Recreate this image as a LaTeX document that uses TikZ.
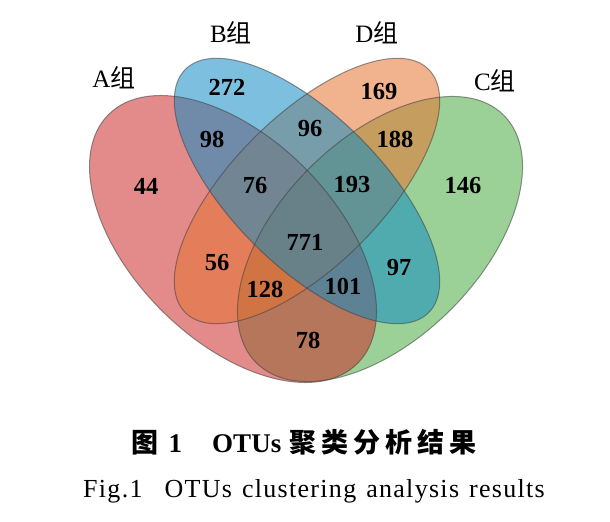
\documentclass[tikz,border=0pt]{standalone}
\usepackage{fontspec}
\setmainfont{Liberation Serif}
\newfontfamily\cjk{Noto Sans CJK SC}
\usepackage{tikz}
\definecolor{acolor}{RGB}{205,45,45}
\definecolor{bcolor}{RGB}{19,140,195}
\definecolor{ccolor}{RGB}{73,173,64}
\definecolor{dcolor}{RGB}{230,115,50}
\newcommand{\numfont}{\fontsize{24.5bp}{28bp}\selectfont\bfseries}
\newcommand{\labfont}{\fontsize{25bp}{28bp}\selectfont}
\newcommand{\capfont}{\fontsize{27bp}{30bp}\selectfont}
\newcommand{\engfont}{\fontsize{26bp}{30bp}\selectfont\addfontfeatures{LetterSpace=5}\spaceskip=10bp}
\begin{document}
\begin{tikzpicture}[x=1bp, y=-1bp, every node/.style={font=\numfont, inner sep=0pt},
    setfill/.style={fill opacity=0.55},
    setline/.style={draw=black!75, draw opacity=0.55, line width=1bp}]
    \fill[white] (0,0) rectangle (610,522);
    \useasboundingbox (0,0) rectangle (610,522);
    % set fills, C at the bottom, B on top
    \fill[setfill, ccolor, rotate around={45:(380,239)}] (380,239) ellipse (175 and 100);
    \fill[setfill, acolor, rotate around={-45:(233,239)}] (233,239) ellipse (176 and 101);
    \fill[setfill, dcolor, rotate around={45:(307,191)}] (307,191) ellipse (172 and 75);
    \fill[setfill, bcolor, rotate around={-45:(307,191)}] (307,191) ellipse (172 and 75);
    % outlines
    \draw[setline, rotate around={45:(380,239)}] (380,239) ellipse (175 and 100);
    \draw[setline, rotate around={-45:(233,239)}] (233,239) ellipse (176 and 101);
    \draw[setline, rotate around={45:(307,191)}] (307,191) ellipse (172 and 75);
    \draw[setline, rotate around={-45:(307,191)}] (307,191) ellipse (172 and 75);
    % set labels
    \node[font=\labfont] (labA) at (114,78) {A{\cjk 组}};
    \node[font=\labfont] (labB) at (231,33) {B{\cjk 组}};
    \node[font=\labfont] (labD) at (377,33) {D{\cjk 组}};
    \node[font=\labfont] (labC) at (495,81) {C{\cjk 组}};
    % counts
    \node (n272) at (227,87) {272};
    \node (n169) at (379,92) {169};
    \node (n98) at (212,139) {98};
    \node (n96) at (310,129) {96};
    \node (n188) at (395,139) {188};
    \node (n44) at (146,186) {44};
    \node (n76) at (255,186) {76};
    \node (n193) at (352,185) {193};
    \node (n146) at (463,186) {146};
    \node (n771) at (305,242) {771};
    \node (n56) at (217,263) {56};
    \node (n97) at (399,268) {97};
    \node (n128) at (265,289) {128};
    \node (n101) at (343,286) {101};
    \node (n78) at (308,340) {78};
    % caption
    \node[font=\capfont, anchor=base] (cap1) at (304,452)
      {{\cjk\bfseries 图}\hspace{10bp}\textbf{1}\hspace{30bp}\textbf{OTUs}\hspace{8bp}{\cjk\bfseries 聚\hspace{5bp}类\hspace{5bp}分\hspace{5bp}析\hspace{5bp}结\hspace{5bp}果}};
    \node[font=\engfont, anchor=base] (cap2) at (314,497)
      {Fig.1\hspace{22bp}OTUs clustering analysis results};
\end{tikzpicture}
\end{document}
